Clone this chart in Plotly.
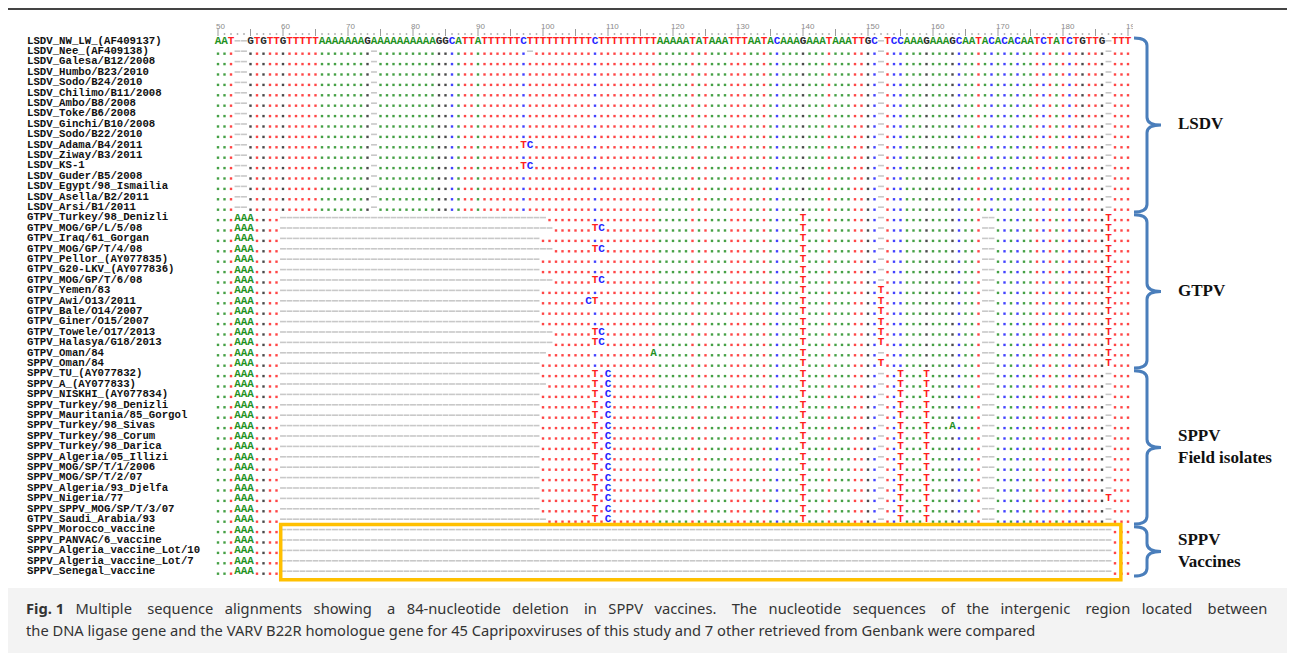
import plotly.graph_objects as go

W, H = 1295, 653
PAGE_OFF = 8          # default body margin of the html page
FW, FH = W - PAGE_OFF, H - PAGE_OFF

# ---------------- data ----------------
first_col = 50
reference_pieces = ["AAT--", "GTGTTGTTTTT", "AAAAAAAG", "AAAAAAAAAA", "GGCATTA", "TTTTTTC",
                    "TTTTTTTTTTC", "TTTTTTTTT", "AAAAATATAAATTTAATAC", "AAAGAAATAAATTGC", "-",
                    "TCCAAAGAAAGCAATACACACAATCTATCTGTTG", "-", "TTT"]
reference = "".join(reference_pieces)
ruler_labels = [50, 60, 70, 80, 90, 100, 110, 120, 130, 140, 150, 160, 170, 180, 190]

lsdv_labels = ["LSDV_NW_LW_(AF409137)", "LSDV_Nee_(AF409138)", "LSDV_Galesa/B12/2008", "LSDV_Humbo/B23/2010",
               "LSDV_Sodo/B24/2010", "LSDV_Chilimo/B11/2008", "LSDV_Ambo/B8/2008", "LSDV_Toke/B6/2008",
               "LSDV_Ginchi/B10/2008", "LSDV_Sodo/B22/2010", "LSDV_Adama/B4/2011", "LSDV_Ziway/B3/2011",
               "LSDV_KS-1", "LSDV_Guder/B5/2008", "LSDV_Egypt/98_Ismailia", "LSDV_Asella/B2/2011",
               "LSDV_Arsi/B1/2011"]
gtpv_labels = ["GTPV_Turkey/98_Denizli", "GTPV_MOG/GP/L/5/08", "GTPV_Iraq/61_Gorgan", "GTPV_MOG/GP/T/4/08",
               "GTPV_Pellor_(AY077835)", "GTPV_G20-LKV_(AY077836)", "GTPV_MOG/GP/T/6/08", "GTPV_Yemen/83",
               "GTPV_Awi/O13/2011", "GTPV_Bale/O14/2007", "GTPV_Giner/O15/2007", "GTPV_Towele/O17/2013",
               "GTPV_Halasya/G18/2013", "GTPV_Oman/84", "SPPV_Oman/84"]
sppv_labels = ["SPPV_TU_(AY077832)", "SPPV_A_(AY077833)", "SPPV_NISKHI_(AY077834)", "SPPV_Turkey/98_Denizli",
               "SPPV_Mauritania/85_Gorgol", "SPPV_Turkey/98_Sivas", "SPPV_Turkey/98_Corum",
               "SPPV_Turkey/98_Darica", "SPPV_Algeria/05_Illizi", "SPPV_MOG/SP/T/1/2006", "SPPV_MOG/SP/T/2/07",
               "SPPV_Algeria/93_Djelfa", "SPPV_Nigeria/77", "SPPV_SPPV_MOG/SP/T/3/07", "GTPV_Saudi_Arabia/93"]
vaccine_labels = ["SPPV_Morocco_vaccine", "SPPV_PANVAC/6_vaccine", "SPPV_Algeria_vaccine_Lot/10",
                  "SPPV_Algeria_vaccine_Lot/7", "SPPV_Senegal_vaccine"]

# last column of the large deletion starting at column 60
gtpv_deletion_end = [100, 101, 99, 101, 99, 99, 101, 99, 99, 99, 99, 101, 101, 100, 99]
sppv_deletion_end = [99, 100, 99, 99, 99, 99, 99, 99, 99, 99, 99, 99, 99, 99, 100]
vaccine_deletion_end = 187
deletion_start = 60

lsdv_gap_cols = [74]
capripox_insert = [(53, "A"), (54, "A"), (55, "A")]
capripox_common = [(140, "T")]
capripox_gap_cols = [168, 169]
gtpv_common = [(187, "T")]
sppv_common = [(108, "T"), (110, "C"), (155, "T"), (159, "T")]
t152_rows = ["GTPV_Yemen/83", "GTPV_Awi/O13/2011", "GTPV_Bale/O14/2007", "GTPV_Giner/O15/2007",
             "GTPV_Towele/O17/2013", "GTPV_Halasya/G18/2013", "SPPV_Oman/84"]
row_substitutions = {
    "LSDV_Adama/B4/2011": [(97, "T"), (98, "C")],
    "LSDV_KS-1": [(97, "T"), (98, "C")],
    "GTPV_MOG/GP/L/5/08": [(108, "T"), (109, "C")],
    "GTPV_MOG/GP/T/4/08": [(108, "T"), (109, "C")],
    "GTPV_MOG/GP/T/6/08": [(108, "T"), (109, "C")],
    "GTPV_Towele/O17/2013": [(108, "T"), (109, "C")],
    "GTPV_Halasya/G18/2013": [(108, "T"), (109, "C")],
    "GTPV_Awi/O13/2011": [(107, "C"), (108, "T")],
    "GTPV_Oman/84": [(117, "A")],
    "SPPV_Turkey/98_Sivas": [(163, "A")],
    "SPPV_Nigeria/77": [(187, "T")],
}
row_extra_gaps = {"LSDV_Nee_(AF409138)": [98]}

group_names = ["LSDV", "GTPV", "SPPV<br>Field isolates", "SPPV<br>Vaccines"]
caption_line1_words = ("Fig. 1|Multiple sequence alignments showing a 84-nucleotide deletion in SPPV vaccines. "
                       "The nucleotide sequences of the intergenic region located between")
caption_line2 = ("the DNA ligase gene and the VARV B22R homologue gene for 45 Capripoxviruses of this study "
                 "and 7 other retrieved from Genbank were compared")

# ---------------- build alignment ----------------
ncol = len(reference)
cols = list(range(first_col, first_col + ncol))
labels = lsdv_labels + gtpv_labels + sppv_labels + vaccine_labels
groups = [lsdv_labels, gtpv_labels, sppv_labels, vaccine_labels]


def put(seq, col, ch):
    seq[col - first_col] = ch


rows = []
for i, lab in enumerate(labels):
    seq = list(reference) if i == 0 else ["-" if b == "-" else "." for b in reference]
    if lab in lsdv_labels and i > 0:
        for c in lsdv_gap_cols:
            put(seq, c, "-")
    if lab in gtpv_labels or lab in sppv_labels:
        k_end = (gtpv_deletion_end[gtpv_labels.index(lab)] if lab in gtpv_labels
                 else sppv_deletion_end[sppv_labels.index(lab)])
        for c, b in capripox_insert + capripox_common:
            put(seq, c, b)
        for c in range(deletion_start, k_end + 1):
            put(seq, c, "-")
        for c in capripox_gap_cols:
            put(seq, c, "-")
        for c, b in (gtpv_common if lab in gtpv_labels else sppv_common):
            put(seq, c, b)
        if lab in t152_rows:
            put(seq, 152, "T")
    if lab in vaccine_labels:
        for c, b in capripox_insert:
            put(seq, c, b)
        for c in range(deletion_start, vaccine_deletion_end + 1):
            put(seq, c, "-")
    for c, b in row_substitutions.get(lab, []):
        put(seq, c, b)
    for c in row_extra_gaps.get(lab, []):
        put(seq, c, "-")
    rows.append(seq)

# ---------------- layout calibration (page pixels) ----------------
COL_PX = 6.5
ROW_PX = 10.4


def px_to_col(px):
    return first_col + (px - 218.0) / COL_PX


def py_to_row(py):
    return 1 + (py - 41.0) / ROW_PX


def paper_x(px):
    return (px - PAGE_OFF) / FW


def paper_y(py):
    return 1 - (py - PAGE_OFF) / FH


dot_color = {"A": "#45a045", "T": "#ff4646", "C": "#4242ff", "G": "#4a4a4a"}
letter_color = {"A": "#1f921f", "T": "#ff1f1f", "C": "#2323ff", "G": "#2a2a2a"}

fig = go.Figure()

# dots
for base in "ATCG":
    xs, ys = [], []
    for r, seq in enumerate(rows):
        for j, ch in enumerate(seq):
            if ch == "." and reference[j] == base:
                xs.append(cols[j])
                ys.append(r + 1 + 0.22)
    fig.add_trace(go.Scatter(x=xs, y=ys, mode="markers", hoverinfo="skip",
                             marker=dict(symbol="square", size=2.4, color=dot_color[base], line=dict(width=0))))

# gap dashes
xs, ys = [], []
for r, seq in enumerate(rows):
    for j, ch in enumerate(seq):
        if ch == "-":
            xs.append(cols[j])
            ys.append(r + 1 - 0.02)
fig.add_trace(go.Scatter(x=xs, y=ys, mode="markers", hoverinfo="skip",
                         marker=dict(symbol="line-ew", size=4.2, color="#c8c8c8",
                                     line=dict(width=1.6, color="#c8c8c8"))))

# letters
xs, ys, ts, cs = [], [], [], []
for r, seq in enumerate(rows):
    for j, ch in enumerate(seq):
        if ch in "ATCG":
            xs.append(cols[j])
            ys.append(r + 1)
            ts.append(ch)
            cs.append(letter_color[ch])
fig.add_trace(go.Scatter(x=xs, y=ys, text=ts, mode="text", hoverinfo="skip", textposition="middle center",
                         textfont=dict(family="Liberation Mono", size=11, color=cs, weight="bold")))

# row labels
fig.add_trace(go.Scatter(x=[px_to_col(27)] * len(labels), y=list(range(1, len(labels) + 1)), text=labels,
                         mode="text", textposition="middle right", hoverinfo="skip",
                         textfont=dict(family="Liberation Mono", size=10.7, color="#111111", weight="bold")))

# ruler (on a clipped axis so the last label is cut like in the source)
tick_x = [c for c in cols if c % 5 == 0]
dot_x = [c for c in cols if c % 5 != 0]
fig.add_trace(go.Scatter(x=tick_x, y=[py_to_row(32.5)] * len(tick_x), xaxis="x2", mode="markers",
                         hoverinfo="skip", marker=dict(symbol="line-ns", size=5, color="#9a9a9a",
                                                       line=dict(width=1, color="#9a9a9a"))))
fig.add_trace(go.Scatter(x=dot_x, y=[py_to_row(34)] * len(dot_x), xaxis="x2", mode="markers",
                         hoverinfo="skip", marker=dict(symbol="square", size=1.5, color="#9a9a9a")))
fig.add_trace(go.Scatter(x=[c - 0.3 for c in ruler_labels], y=[py_to_row(26.5)] * len(ruler_labels),
                         text=[str(v) for v in ruler_labels], xaxis="x2", mode="text", cliponaxis=True,
                         textposition="middle right", hoverinfo="skip",
                         textfont=dict(family="Liberation Sans", size=8, color="#8a8a8a")))

# brackets
shapes = []
x_hook, x_spine, x_tip = px_to_col(1134), px_to_col(1147), px_to_col(1161)
rad = 0.75
row_pos = 1
tips = []
for g in groups:
    top = row_pos - 0.3
    bot = row_pos + len(g) - 1 + 0.45
    mid = (top + bot) / 2
    tips.append(mid)
    path = (f"M {x_hook},{top} Q {x_spine},{top} {x_spine},{top + rad} "
            f"L {x_spine},{mid - rad} Q {x_spine},{mid} {x_tip},{mid} "
            f"Q {x_spine},{mid} {x_spine},{mid + rad} L {x_spine},{bot - rad} "
            f"Q {x_spine},{bot} {x_hook},{bot}")
    shapes.append(dict(type="path", xref="x", yref="y", path=path,
                       line=dict(color="#4a7ebb", width=3)))
    row_pos += len(g)

fig.add_trace(go.Scatter(x=[px_to_col(1178)] * len(group_names), y=tips, text=group_names, mode="text",
                         textposition="middle right", hoverinfo="skip",
                         textfont=dict(family="Liberation Serif", size=17, color="#111111", weight="bold")))

# highlight box around vaccine deletion
v0 = len(labels) - len(vaccine_labels) + 1
shapes.append(dict(type="rect", xref="x", yref="y", x0=deletion_start - 0.35, x1=188.9,
                   y0=v0 - 0.5, y1=len(labels) + 0.8, line=dict(color="#ffc000", width=3.5)))

# frame / caption area
shapes.append(dict(type="line", xref="paper", yref="paper", x0=0, x1=1, y0=paper_y(9), y1=paper_y(9),
                   line=dict(color="#444444", width=2)))
shapes.append(dict(type="rect", xref="paper", yref="paper", x0=paper_x(8), x1=paper_x(1287), y0=0,
                   y1=paper_y(588), fillcolor="#f3f3f3", line=dict(width=0), layer="below"))

# justified first caption line: widen the inter-word spaces
words = caption_line1_words.replace("|", " ").split(" ")
line1 = ""
for k, wd in enumerate(words):
    if k == 0:
        line1 = "<b>" + wd
    elif k == 1:
        line1 += "\u00a0" + wd + "</b>"
    else:
        extra = 3 if (k % 3 == 0 or k == len(words) - 1) else 2
        line1 += "\u00a0" * (1 + extra) + wd
caption_lines = [line1, caption_line2]

annotations = []
for k, line in enumerate(caption_lines):
    annotations.append(dict(xref="paper", yref="paper", x=paper_x(24), y=paper_y(608 + 22 * k),
                            xanchor="left", yanchor="middle", showarrow=False, text=line,
                            font=dict(family="Noto Sans", size=14.7, color="#333333")))

fig.update_layout(
    width=FW, height=FH, margin=dict(l=0, r=0, t=0, b=0),
    paper_bgcolor="white", plot_bgcolor="rgba(0,0,0,0)", showlegend=False,
    xaxis=dict(range=[px_to_col(PAGE_OFF), px_to_col(W)], domain=[0, 1], visible=False, fixedrange=True),
    xaxis2=dict(range=[px_to_col(PAGE_OFF), px_to_col(1133)], domain=[0, paper_x(1133)], anchor="y",
                visible=False, fixedrange=True),
    yaxis=dict(range=[py_to_row(H), py_to_row(PAGE_OFF)], domain=[0, 1], visible=False, fixedrange=True),
    shapes=shapes, annotations=annotations,
)

fig.write_html("out.html")
